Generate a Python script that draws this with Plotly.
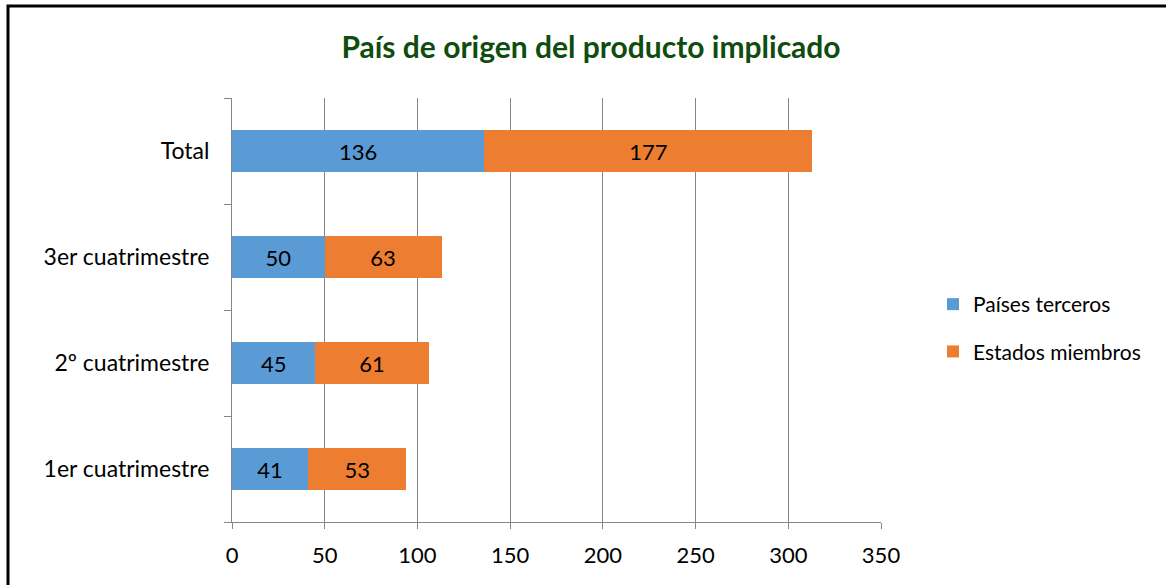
import plotly.graph_objects as go

categories = ["1er cuatrimestre", "2º cuatrimestre", "3er cuatrimestre", "Total"]
paises_terceros = [41, 45, 50, 136]
estados_miembros = [53, 61, 63, 177]
x_ticks = [0, 50, 100, 150, 200, 250, 300, 350]

W, H = 1166, 585
L, R, T, B = 232, 881, 98, 522

FONT = "Lato"
fig = go.Figure()
fig.add_trace(go.Bar(
    y=categories, x=paises_terceros, orientation="h", name="Países terceros",
    marker=dict(color="#5b9bd5", line=dict(width=0)),
    text=paises_terceros, textposition="inside", insidetextanchor="middle",
    textfont=dict(family=FONT, size=22, color="#000000"), legendgroup="a",
))
fig.add_trace(go.Bar(
    y=categories, x=estados_miembros, orientation="h", name="Estados miembros",
    marker=dict(color="#ed7d31", line=dict(width=0)),
    text=estados_miembros, textposition="inside", insidetextanchor="middle",
    textfont=dict(family=FONT, size=22, color="#000000"), legendgroup="b",
))

fig.update_layout(
    width=W, height=H,
    barmode="stack", bargap=0.6,
    margin=dict(l=L, r=W - R, t=T, b=H - B, pad=0),
    paper_bgcolor="white", plot_bgcolor="white",
    font=dict(family=FONT, size=22, color="#000000"),
    title=dict(text="<b>País de origen del producto implicado</b>",
               font=dict(family=FONT, size=30, color="#0f4d0f"),
               x=591 / W, xref="container", xanchor="center",
               y=1 - 47 / H, yref="container", yanchor="middle"),
    xaxis=dict(range=[0, 350], tickvals=x_ticks, showgrid=True, gridcolor="#868686",
               gridwidth=1, showline=True, linecolor="#868686", linewidth=1,
               ticks="outside", ticklen=6, tickcolor="#868686", zeroline=False,
               tickfont=dict(family=FONT, size=22), ticklabelstandoff=8),
    yaxis=dict(type="category", categoryorder="array", categoryarray=categories,
               showline=True, linecolor="#868686", linewidth=1,
               ticks="outside", ticklen=7, tickcolor="#868686", tickson="boundaries",
               showgrid=False, tickfont=dict(family=FONT, size=23), ticklabelstandoff=17),
    legend=dict(x=(933 - L) / (R - L), xanchor="left", y=(B - 328) / (B - T), yanchor="middle",
                traceorder="grouped", tracegroupgap=17, itemwidth=30,
                font=dict(family=FONT, size=21), bgcolor="rgba(0,0,0,0)"),
    showlegend=True,
    shapes=[dict(type="rect", xref="paper", yref="paper",
                 x0=(8 - L) / (R - L), x1=(1175 - L) / (R - L),
                 y0=(B - 600) / (B - T), y1=(B - 6) / (B - T),
                 line=dict(color="#000000", width=3), layer="below")],
)

fig.write_html("out.html", config={"displayModeBar": False},
               post_script="document.body.style.margin='0px';")
